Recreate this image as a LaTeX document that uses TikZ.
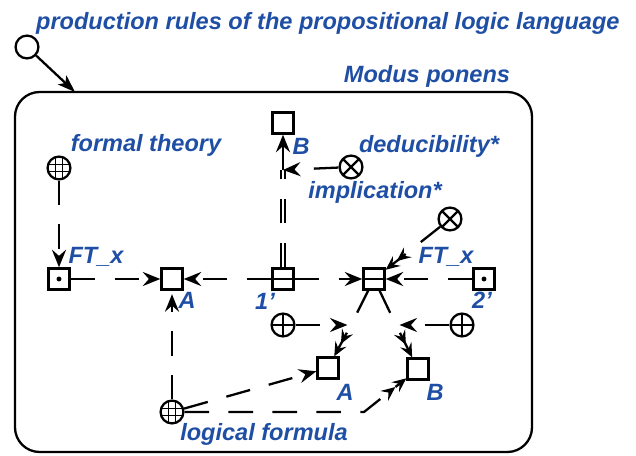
\documentclass[tikz,border=0pt]{standalone}
\usepackage{fontspec}
\setmainfont{Liberation Sans}
\usetikzlibrary{arrows.meta}
\definecolor{LblBlue}{HTML}{1F4FA5}
\begin{document}
\begin{tikzpicture}[x=0.02cm, y=-0.02cm, line width=1.3pt,
  lbl/.style={text=LblBlue, inner sep=0pt, font=\fontsize{13.4}{15}\selectfont\bfseries\itshape},
  sq/.style={draw, rectangle, minimum size=12pt, inner sep=0pt},
  dotsq/.style={sq, path picture={\fill (path picture bounding box.center) circle (1.4pt);}},
  splitsq/.style={sq, path picture={\draw (path picture bounding box.west) -- (path picture bounding box.east);}},
  ring/.style={draw, circle, minimum size=13pt, inner sep=0pt},
  plusring/.style={ring, path picture={\draw (path picture bounding box.west) -- (path picture bounding box.east)
      (path picture bounding box.north) -- (path picture bounding box.south);}},
  crossring/.style={ring, path picture={\draw (path picture bounding box.north west) -- (path picture bounding box.south east)
      (path picture bounding box.north east) -- (path picture bounding box.south west);}},
  globe/.style={ring, path picture={\draw[line width=0.7pt]
      ([xshift=-2.2pt]path picture bounding box.north) -- ([xshift=-2.2pt]path picture bounding box.south)
      ([xshift=2.2pt]path picture bounding box.north) -- ([xshift=2.2pt]path picture bounding box.south)
      ([yshift=-2.2pt]path picture bounding box.west) -- ([yshift=-2.2pt]path picture bounding box.east)
      ([yshift=2.2pt]path picture bounding box.west) -- ([yshift=2.2pt]path picture bounding box.east);}},
  conn/.style={dash pattern=on 14pt off 11pt},
  tip/.style={-{Stealth[length=10pt,width=8pt,inset=3.5pt]}},
  tiptwo/.style={-{Stealth[length=8pt,width=7pt,inset=3pt] Stealth[length=8pt,width=7pt,inset=3pt]}}]
  \useasboundingbox (0,0) rectangle (636,456);
  % outer frame
  \draw[rounded corners=14pt] (15,92) rectangle (532,452);
  \coordinate (frametop) at (75,92);
  \node[ring] (prod) at (27,47) {};
  \node[lbl, anchor=west] (prodlbl) at (35,23) {production rules of the propositional logic language};
  \node[lbl] (mp) at (427,76) {Modus ponens};
  % nodes
  \node[globe] (ftg) at (59,168) {};
  \node[dotsq] (ftx1) at (59,279) {};
  \node[sq] (boxA1) at (172,279) {};
  \node[splitsq] (split1) at (283,279) {};
  \node[splitsq] (split2) at (374,279) {};
  \node[dotsq] (ftx2) at (484,279) {};
  \node[sq] (topB) at (283,123) {};
  \node[crossring] (impl) at (351,167) {};
  \node[crossring] (cross2) at (450,219) {};
  \node[plusring] (plus1) at (283,325) {};
  \node[plusring] (plus2) at (462,325) {};
  \node[sq] (boxA2) at (328,368) {};
  \node[sq] (boxB2) at (418,369) {};
  \node[globe] (lf) at (172,412) {};
  \coordinate (jimp) at (283,170);
  \coordinate (jl) at (351,325);
  \coordinate (jr) at (396,325);
  \coordinate (bend) at (364,412);
  % labels
  \node[lbl] (ftlbl) at (146,145) {formal theory};
  \node[lbl] (deduc) at (429,146) {deducibility*};
  \node[lbl] (impllbl) at (375,192) {implication*};
  \node[lbl] (ftxlbl1) at (96,257) {FT\_x};
  \node[lbl] (ftxlbl2) at (446,257) {FT\_x};
  \node[lbl] (Blbl1) at (301,146) {B};
  \node[lbl] (Albl1) at (187,300) {A};
  \node[lbl] (onelbl) at (265,301) {1'};
  \node[lbl] (twolbl) at (482,300) {2'};
  \node[lbl] (Albl2) at (345,392) {A};
  \node[lbl] (Blbl2) at (435,392) {B};
  \node[lbl] (lflbl) at (264,434) {logical formula};
  % connectors
  \draw[-{Stealth[length=10pt,width=7pt,inset=2.5pt]}] (prod) -- (frametop);
  \draw[conn, tip] (ftg) -- (ftx1);
  \draw[conn, tip] (ftx1) -- (boxA1);
  \draw[conn, tip] (split1) -- (boxA1);
  \draw[conn, tip] (split1) -- (split2);
  \draw[conn, tip] (ftx2) -- (split2);
  \draw[conn, tiptwo] (cross2) -- (split2);
  \draw[conn, double, double distance=1.6pt, line width=0.8pt] (split1) -- (jimp);
  \draw[tip] (jimp) -- (topB);
  \draw[conn, tip] (impl) -- (jimp);
  \draw[conn] (split2) -- (jl);
  \draw[conn] (split2) -- (jr);
  \draw[conn, tip, shorten >=2pt] (plus1) -- (jl);
  \draw[conn, tip, shorten >=2pt] (plus2) -- (jr);
  \draw[conn, tiptwo, shorten <=5pt] (jl) -- (boxA2);
  \draw[conn, tiptwo, shorten <=5pt] (jr) -- (boxB2);
  \draw[conn, tip, shorten >=2pt] (lf) -- (boxA1);
  \draw[conn, tip] (lf) -- (boxA2);
  \draw[conn, tiptwo] (lf) -- (bend) -- (boxB2);
\end{tikzpicture}
\end{document}
